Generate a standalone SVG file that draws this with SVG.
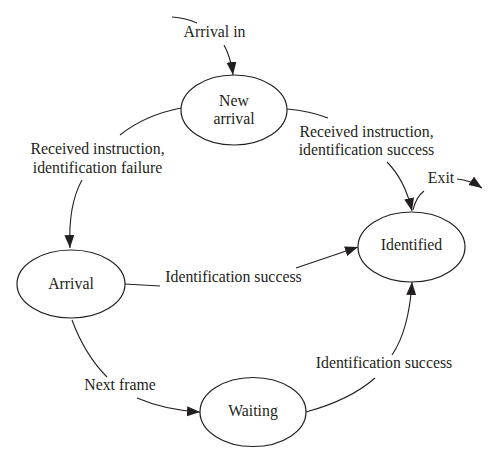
<svg xmlns="http://www.w3.org/2000/svg" width="500" height="465" viewBox="0 0 500 465">
<style>
.node ellipse{fill:#fff;stroke:#231f20;stroke-width:1.2}
text{font-family:"Liberation Serif","Times New Roman",serif;font-size:15.8px;fill:#231f20;text-anchor:middle}
.c path{fill:none;stroke:#231f20;stroke-width:1.1}
</style>
<defs>
<marker id="ah" markerUnits="userSpaceOnUse" markerWidth="14" markerHeight="11" refX="13" refY="5" orient="auto">
<path d="M0,0 L13,5 L0,10 z" fill="#231f20"/>
</marker>
</defs>
<rect width="500" height="465" fill="#fff"/>
<g class="c" id="connectors">
<path d="M172,17 Q186,18 197,23"/>
<path d="M224,45 Q231,58 233,75" marker-end="url(#ah)"/>
<path d="M181,108 Q145,115 120,135"/>
<path d="M82,180 Q68,205 70,248" marker-end="url(#ah)"/>
<path d="M287,109 Q310,111 328,118"/>
<path d="M387,162 Q405,180 412,211" marker-end="url(#ah)"/>
<path d="M125,284 L160,286"/>
<path d="M296,268 L358,247" marker-end="url(#ah)"/>
<path d="M72,320 Q85,355 107,377"/>
<path d="M137,398 Q165,410 200,412" marker-end="url(#ah)"/>
<path d="M306,412 Q350,400 375,378"/>
<path d="M392,355 Q409,330 412,282" marker-end="url(#ah)"/>
<path d="M413,210 Q416,197 424,191"/>
<path d="M457,179 Q470,180 482,188" marker-end="url(#ah)"/>
</g>
<g id="labels">
<text x="214.5" y="37">Arrival in</text>
<text x="97.5" y="154">Received instruction,</text>
<text x="97.5" y="173">identification failure</text>
<text x="366.5" y="137">Received instruction,</text>
<text x="366.5" y="155">identification success</text>
<text x="441" y="183">Exit</text>
<text x="233.5" y="282">Identification success</text>
<text x="120" y="390">Next frame</text>
<text x="384" y="368">Identification success</text>
</g>
<g class="node" id="new-arrival">
<ellipse cx="234" cy="110" rx="53" ry="35"/>
<text x="234" y="106">New</text>
<text x="234" y="124">arrival</text>
</g>
<g class="node" id="arrival">
<ellipse cx="71" cy="284" rx="54" ry="34"/>
<text x="71" y="289">Arrival</text>
</g>
<g class="node" id="identified">
<ellipse cx="411.5" cy="247" rx="53.5" ry="35"/>
<text x="411.5" y="250">Identified</text>
</g>
<g class="node" id="waiting">
<ellipse cx="253" cy="412" rx="53" ry="34.5"/>
<text x="253" y="416">Waiting</text>
</g>
</svg>
